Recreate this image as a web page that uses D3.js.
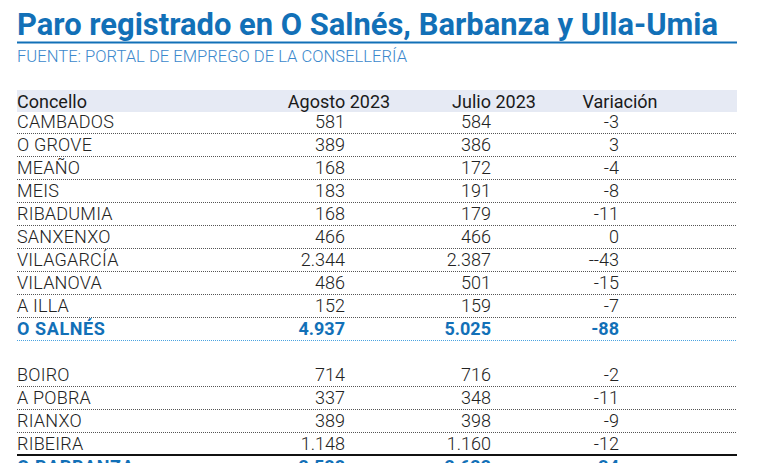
<!DOCTYPE html>
<html>
<head>
<meta charset="utf-8">
<script src="https://cdn.jsdelivr.net/npm/d3@7"></script>
<style>
  html, body { margin: 0; padding: 0; background: #fff; overflow: hidden; }
  svg { display: block; font-family: Roboto, "Noto Sans", sans-serif; }
</style>
</head>
<body>
<svg id="chart" width="757" height="463"></svg>
<script>
// ---- data ----
const title = "Paro registrado en O Salnés, Barbanza y Ulla-Umia";
const subtitle = "FUENTE: PORTAL DE EMPREGO DE LA CONSELLERÍA";
const headers = ["Concello", "Agosto 2023", "Julio 2023", "Variación"];

const salnesConcellos = ["CAMBADOS", "O GROVE", "MEAÑO", "MEIS", "RIBADUMIA", "SANXENXO", "VILAGARCÍA", "VILANOVA", "A ILLA"];
const salnesAgosto = [581, 389, 168, 183, 168, 466, 2344, 486, 152];
const salnesJulio = [584, 386, 172, 191, 179, 466, 2387, 501, 159];
const salnesVariacion = ["-3", "3", "-4", "-8", "-11", "0", "--43", "-15", "-7"];

const barbanzaConcellos = ["BOIRO", "A POBRA", "RIANXO", "RIBEIRA"];
const barbanzaAgosto = [714, 337, 389, 1148];
const barbanzaJulio = [716, 348, 398, 1160];
const barbanzaVariacion = ["-2", "-11", "-9", "-12"];

const totalNames = ["O SALNÉS", "O BARBANZA"];
const totalAgosto = [4937, 2588];
const totalJulio = [5025, 2622];
const totalVariacion = ["-88", "-34"];

// ---- build rows ----
const rows = [];
salnesConcellos.forEach((c, i) => rows.push({name: c, ag: salnesAgosto[i], jul: salnesJulio[i], v: salnesVariacion[i], total: false, sep: "dot"}));
rows.push({name: totalNames[0], ag: totalAgosto[0], jul: totalJulio[0], v: totalVariacion[0], total: true, sep: "blue"});
rows.push(null); // gap
barbanzaConcellos.forEach((c, i) => rows.push({name: c, ag: barbanzaAgosto[i], jul: barbanzaJulio[i], v: barbanzaVariacion[i], total: false, sep: i === barbanzaConcellos.length - 1 ? "solid" : "dot"}));
rows.push({name: totalNames[1], ag: totalAgosto[1], jul: totalJulio[1], v: totalVariacion[1], total: true, sep: "none"});

const locale = d3.formatLocale({decimal: ",", thousands: ".", grouping: [3], currency: ["", "€"]});
const fmt = locale.format(",d");

const svg = d3.select("#chart");
const left = 17, right = 737;
const blue = "#1270b7";

// y scale: row index -> baseline
const y = d3.scaleLinear().domain([0, 1]).range([128, 151]);
// value columns (right edges) and header centers
const xVal = d3.scaleOrdinal().domain(["ag", "jul", "v"]).range([345, 491, 619]);
const xHead = d3.scaleOrdinal().domain(headers).range([17, 339, 494, 620]);

// title
const t = svg.append("text")
  .attr("x", left).attr("y", 35)
  .attr("font-size", 31).attr("font-weight", 700)
  .attr("fill", blue)
  .text(title);
t.attr("textLength", 701).attr("lengthAdjust", "spacingAndGlyphs");

svg.append("rect").attr("x", left).attr("y", 41.5).attr("width", right - left).attr("height", 2).attr("fill", blue);

svg.append("text")
  .attr("x", left).attr("y", 62)
  .attr("font-size", 16.5).attr("font-weight", 300)
  .attr("fill", "#3b88cc")
  .attr("textLength", 390).attr("lengthAdjust", "spacingAndGlyphs")
  .text(subtitle);

// header band
svg.append("rect").attr("x", left).attr("y", 90).attr("width", right - left).attr("height", 22).attr("fill", "#e6eaf4");
svg.selectAll("text.head").data(headers).join("text")
  .attr("class", "head")
  .attr("x", d => xHead(d)).attr("y", 108)
  .attr("text-anchor", (d, i) => i === 0 ? "start" : "middle")
  .attr("font-size", 18).attr("font-weight", 400).attr("fill", "#1a1a1a")
  .text(d => d);

// rows
const g = svg.append("g");
rows.forEach((r, i) => {
  if (!r) return;
  const by = y(i);
  const col = r.total ? blue : "#222";
  const fw = r.total ? 700 : 300;
  g.append("text").attr("x", left).attr("y", by)
    .attr("font-size", 18).attr("font-weight", fw).attr("fill", col)
    .attr("letter-spacing", r.total ? 0.6 : 0.2)
    .text(r.name);
  [["ag", fmt(r.ag)], ["jul", fmt(r.jul)], ["v", r.v]].forEach(([k, s]) => {
    g.append("text").attr("x", xVal(k)).attr("y", by)
      .attr("text-anchor", "end")
      .attr("font-size", 18).attr("font-weight", fw).attr("fill", col)
      .text(s);
  });
  const ly = by + 5.5;
  if (r.sep === "dot") {
    g.append("line").attr("x1", left).attr("x2", right).attr("y1", ly).attr("y2", ly)
      .attr("stroke", "#555").attr("stroke-width", 1).attr("stroke-dasharray", "1,1");
  } else if (r.sep === "blue") {
    g.append("line").attr("x1", left).attr("x2", right).attr("y1", ly).attr("y2", ly)
      .attr("stroke", "#4aa3e0").attr("stroke-width", 1).attr("stroke-dasharray", "1,1");
  } else if (r.sep === "solid") {
    g.append("rect").attr("x", left).attr("y", ly - 1.5).attr("width", right - left).attr("height", 2).attr("fill", "#111");
  }
});
</script>
</body>
</html>
